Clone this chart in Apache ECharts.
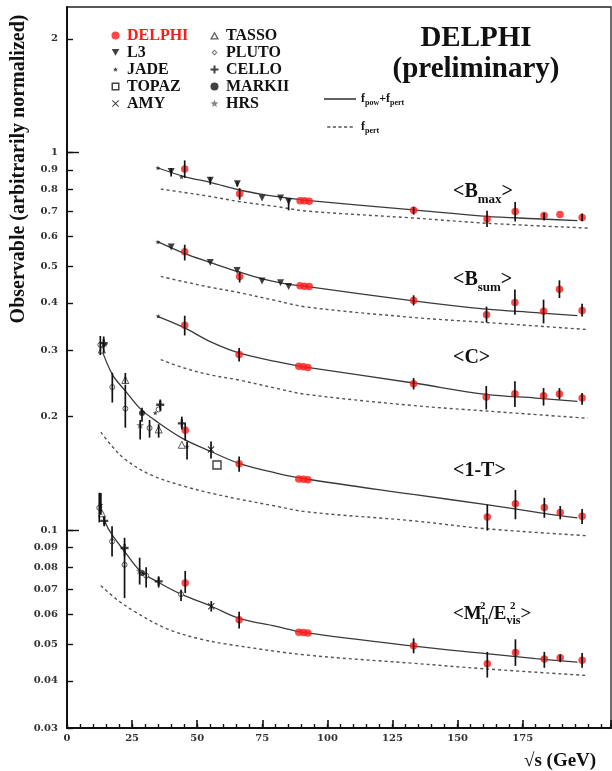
<!DOCTYPE html>
<html>
<head>
<meta charset="utf-8">
<script src="https://cdn.jsdelivr.net/npm/echarts@6/dist/echarts.min.js"></script>
<style>
html,body{margin:0;padding:0;background:#fff;}
#chart{width:612px;height:771px;}
</style>
</head>
<body>
<div id="chart"></div>
<script>
// ---------------- DATA ----------------
const xTicks = [0, 25, 50, 75, 100, 125, 150, 175, 200];
const yTickLabels = [0.03, 0.04, 0.05, 0.06, 0.07, 0.08, 0.09, 0.1, 0.2, 0.3, 0.4, 0.5, 0.6, 0.7, 0.8, 0.9, 1, 2];
const yMajorTicks = [0.1, 1];

// experiments: [sqrt(s), value]
const DELPHI = [
  // <Bmax>
  [45.2,0.904],[66.3,0.778],[89.5,0.745],[91.2,0.745],[93.0,0.743],[133.1,0.703],[161.3,0.667],[172.1,0.698],[183.2,0.681],[189.3,0.685],[197.8,0.673],
  // <Bsum>
  [45.2,0.546],[66.3,0.470],[89.5,0.444],[91.2,0.443],[93.0,0.442],[133.1,0.406],[161.1,0.372],[172.0,0.401],[183.0,0.380],[189.1,0.435],[197.8,0.382],
  // <C>
  [45.2,0.349],[66.1,0.292],[89.0,0.272],[90.8,0.271],[92.5,0.270],[133.1,0.2444],[161.0,0.2254],[172.0,0.230],[183.0,0.227],[189.1,0.2296],[197.8,0.224],
  // <1-T>
  [45.4,0.184],[66.1,0.150],[89.0,0.1368],[90.8,0.1366],[92.5,0.1362],[161.4,0.1085],[172.2,0.1177],[183.3,0.115],[189.4,0.1116],[197.8,0.109],
  // <Mh2/Evis2>
  [45.4,0.0726],[66.1,0.058],[89.0,0.0538],[90.8,0.0537],[92.5,0.0535],[133.1,0.0495],[161.4,0.0444],[172.2,0.0475],[183.3,0.0457],[189.4,0.046],[197.8,0.0453]
];
const L3 = [
  [40.0,0.891],[55.0,0.844],[65.4,0.827],[74.9,0.758],[82.0,0.758],[85.1,0.742],
  [40.0,0.562],[55.0,0.512],[65.3,0.487],[74.9,0.457],[82.0,0.452],[85.1,0.442]
];
const JADE = [[34.9,0.910],[44.0,0.862],[34.9,0.580],[35.0,0.369],[14.7,0.310],[33.9,0.2045],[46.1,0.1668],[13.0,0.117]];
const TOPAZ = [[57.6,0.149]];
const AMY = [[55.3,0.1636],[55.4,0.0630]];
const TASSO = [[13.4,0.301],[22.4,0.250],[35.2,0.185],[44.1,0.1685],[13.4,0.111]];
const PLUTO = [[12.8,0.310],[17.4,0.2395],[22.4,0.210],[31.7,0.1866],[35.2,0.209],[12.4,0.1147],[17.3,0.0935],[22.1,0.0811],[30.4,0.0759],[43.8,0.0678]];
const CELLO = [[14.1,0.313],[35.8,0.215],[44.1,0.192],[14.3,0.106],[22.1,0.0898],[35.2,0.0733]];
const MARKII = [[28.8,0.2045],[28.8,0.0772]];
const HRS = [[28.1,0.190],[27.9,0.0782]];

// error bars: [sqrt(s), low, high]
const errBars = [
  [45.2,0.856,0.953],[66.3,0.750,0.805],[133.1,0.685,0.718],[161.3,0.635,0.701],[172.1,0.657,0.740],[183.2,0.661,0.692],[197.8,0.658,0.690],
  [40.0,0.864,0.910],[55.0,0.822,0.861],[65.4,0.813,0.838],[85.1,0.703,0.753],
  [45.2,0.518,0.570],[66.3,0.453,0.484],[133.1,0.394,0.419],[161.1,0.355,0.391],[172.0,0.372,0.434],[183.0,0.353,0.408],[189.1,0.412,0.459],[197.8,0.368,0.398],
  [45.2,0.328,0.370],[66.1,0.280,0.304],[133.1,0.236,0.253],[161.0,0.209,0.241],[172.0,0.212,0.248],[183.0,0.214,0.238],[189.1,0.222,0.238],[197.8,0.215,0.231],
  [45.4,0.173,0.192],[66.1,0.143,0.157],[161.4,0.0999,0.117],[172.2,0.107,0.128],[183.3,0.108,0.122],[189.4,0.107,0.116],[197.8,0.104,0.114],
  [12.8,0.291,0.327],[14.1,0.295,0.326],[17.4,0.218,0.2615],[22.4,0.187,0.243],[22.4,0.245,0.261],[28.8,0.194,0.211],[28.1,0.174,0.196],[31.7,0.176,0.196],[35.2,0.176,0.191],[35.8,0.207,0.222],[44.1,0.185,0.200],[46.1,0.154,0.172],[55.3,0.155,0.172],
  [12.4,0.105,0.1258],[13.0,0.110,0.1256],[14.3,0.1025,0.1089],[17.3,0.0853,0.1025],[22.1,0.0853,0.0956],[22.1,0.0662,0.088],[27.9,0.0719,0.0847],[30.4,0.0706,0.0799],[35.2,0.0706,0.0756],[43.8,0.065,0.0697],[45.4,0.0683,0.0781],[55.4,0.0610,0.0650],[66.1,0.0550,0.0609],[133.1,0.0473,0.0518],[161.4,0.0408,0.0477],[172.2,0.0438,0.0515],[183.3,0.0433,0.0477],[189.4,0.0448,0.047],[197.8,0.0433,0.0474]
];

// fitted curves: f_pow + f_pert (solid) and f_pert (dashed)
const fitBmax = [[35,0.91],[45,0.864],[55,0.834],[66,0.797],[75,0.775],[85,0.757],[91,0.748],[133,0.705],[161,0.678],[180,0.668],[196,0.660]];
const pertBmax = [[36,0.80],[45,0.784],[55,0.765],[66,0.742],[80,0.720],[92,0.700],[133,0.671],[161,0.650],[200,0.631]];
const fitBsum = [[35,0.580],[45,0.541],[55,0.512],[66,0.483],[75,0.463],[85,0.448],[91,0.443],[133,0.405],[161,0.385],[180,0.377],[196,0.370]];
const pertBsum = [[36,0.47],[45,0.455],[55,0.440],[66,0.426],[80,0.406],[92,0.390],[133,0.366],[161,0.355],[200,0.340]];
const fitC = [[35,0.368],[45,0.344],[55,0.316],[66,0.295],[80,0.280],[91,0.271],[133,0.2455],[161,0.229],[180,0.224],[196,0.2195]];
const pertC = [[36,0.283],[45,0.269],[55,0.258],[66,0.250],[80,0.238],[92,0.229],[133,0.214],[161,0.207],[200,0.198]];
const fitT = [[13,0.305],[17.5,0.258],[22.4,0.234],[28.1,0.210],[35,0.193],[44.5,0.175],[55,0.162],[66,0.1505],[80,0.142],[91,0.137],[133,0.1245],[161,0.117],[183,0.111],[196,0.108]];
const pertT = [[13,0.182],[17.3,0.167],[22.4,0.154],[32,0.1404],[44.8,0.131],[55,0.1256],[66,0.121],[80,0.116],[92,0.112],[133,0.106],[161,0.101],[200,0.0968]];
const fitM = [[12.4,0.118],[14.7,0.105],[17.3,0.0974],[22.1,0.088],[28.1,0.0781],[35.2,0.0728],[43.8,0.0678],[55.4,0.0630],[66.1,0.0585],[80,0.0558],[91,0.0537],[133,0.0494],[161,0.0472],[180,0.0458],[196,0.0448]];
const pertM = [[13,0.0714],[19.2,0.0656],[25.6,0.0612],[38.4,0.0549],[51.2,0.0516],[64,0.0497],[92,0.0468],[133,0.0445],[161,0.0430],[200,0.0413]];

// ---------------- CHART ----------------
const SERIF = '"Liberation Serif","Times New Roman",serif';
const LBL = '"DejaVu Serif",serif';
const chart = echarts.init(document.getElementById('chart'), null, {renderer: 'canvas'});

const PLUS = 'path://M3.5,0H6.5V3.5H10V6.5H6.5V10H3.5V6.5H0V3.5H3.5Z';
const XCROSS = 'path://M1.2,0L5,3.8L8.8,0L10,1.2L6.2,5L10,8.8L8.8,10L5,6.2L1.2,10L0,8.8L3.8,5L0,1.2Z';
const STAR = 'path://M5,0L6.2,3.5L10,3.6L7,5.9L8.1,9.5L5,7.4L1.9,9.5L3,5.9L0,3.6L3.8,3.5Z';

// legend icons in a 13x8 box (tiny corner dots fix the box so shapes are not stretched)
const BOX = 'M0,0h0.01v0.01h-0.01Z M12.99,7.99h0.01v0.01h-0.01Z ';
const IC = {
  L3: 'path://' + BOX + 'M2.7,0.5H10.3L6.5,7.3Z',
  JADE: 'path://' + BOX + 'M6.5,1.5L7.1,3.25L9,3.3L7.5,4.45L8.05,6.25L6.5,5.2L4.95,6.25L5.5,4.45L4,3.3L5.9,3.25Z',
  TOPAZ: 'path://' + BOX + 'M2.5,0H10.5V8H2.5Z M4,1.5V6.5H9V1.5Z',
  AMY: 'path://' + BOX + 'M3.7,0.5L6.5,3.3L9.3,0.5L10,1.2L7.2,4L10,6.8L9.3,7.5L6.5,4.7L3.7,7.5L3,6.8L5.8,4L3,1.2Z',
  TASSO: 'path://' + BOX + 'M6.5,0L11,8H2Z M6.5,2.6L4.2,6.8H8.8Z',
  PLUTO: 'path://' + BOX + 'M6.5,1L9.5,4L6.5,7L3.5,4Z M6.5,2.5L5,4L6.5,5.5L8,4Z',
  CELLO: 'path://' + BOX + 'M5.5,0H7.5V3H10.5V5H7.5V8H5.5V5H2.5V3H5.5Z',
  HRS: 'path://' + BOX + 'M6.5,0L7.46,2.8L10.5,2.88L8.1,4.72L8.98,7.6L6.5,5.92L4.02,7.6L4.9,4.72L2.5,2.88L5.54,2.8Z',
  DASH: 'path://M0,0H4V2H0ZM7,0H11V2H7ZM14,0H18V2H14ZM21,0H25V2H21ZM28,0H32V2H28Z'
};
const dark = {color: '#111', borderWidth: 0};

function sc(name, data, symbol, size, style, extra) {
  return Object.assign({
    name, type: 'scatter', data, symbol, symbolSize: size, symbolKeepAspect: true,
    itemStyle: style, z: 4, silent: true
  }, extra || {});
}
const curveSolid = (d) => ({name: 'fpow+fpert', type: 'line', data: d, smooth: 0.35, symbol: 'none', silent: true, z: 2,
  lineStyle: {color: '#3a3a3a', width: 1.3}, itemStyle: {color: '#3a3a3a'}});
const curveDash = (d) => ({name: 'fpert', type: 'line', data: d, smooth: 0.35, symbol: 'none', silent: true, z: 2,
  lineStyle: {color: '#555', width: 1.4, type: [3, 3]}, itemStyle: {color: '#555'}});

const legTxt = {fontFamily: SERIF, fontWeight: 'bold', fontSize: 16, lineHeight: 17, color: '#111'};

const option = {
  animation: false,
  backgroundColor: '#fff',
  title: {
    text: 'DELPHI\n(preliminary)', left: 471, top: 18, textAlign: 'center',
    textStyle: {fontFamily: SERIF, fontWeight: 'bold', fontSize: 29, lineHeight: 31, color: '#111'}
  },
  grid: {left: 67, top: 7, width: 544, height: 721, show: true, borderColor: '#222', borderWidth: 1.3, backgroundColor: 'transparent'},
  legend: [
    {orient: 'vertical', left: 109, top: 27, padding: 0, itemGap: 0, itemWidth: 13, itemHeight: 8, selectedMode: false,
     textStyle: legTxt,
     data: [{name: 'DELPHI', textStyle: {color: '#ff1a1a'}},
            {name: 'L3', icon: IC.L3, itemStyle: dark},
            {name: 'JADE', icon: IC.JADE, itemStyle: dark},
            {name: 'TOPAZ', icon: IC.TOPAZ, itemStyle: dark},
            {name: 'AMY', icon: IC.AMY, itemStyle: dark}]},
    {orient: 'vertical', left: 208, top: 27, padding: 0, itemGap: 0, itemWidth: 13, itemHeight: 8, selectedMode: false,
     textStyle: legTxt,
     data: [{name: 'TASSO', icon: IC.TASSO, itemStyle: {color: '#333', borderWidth: 0}},
            {name: 'PLUTO', icon: IC.PLUTO, itemStyle: {color: '#555', borderWidth: 0}},
            {name: 'CELLO', icon: IC.CELLO, itemStyle: dark},
            'MARKII',
            {name: 'HRS', icon: IC.HRS, itemStyle: {color: '#666', borderWidth: 0}}]},
    {orient: 'vertical', left: 324, top: 93, padding: 0, itemGap: 14, itemWidth: 32, itemHeight: 1.6, selectedMode: false,
     data: [{name: 'fpow+fpert', icon: 'rect'}, {name: 'fpert', icon: IC.DASH}],
     formatter: (n) => n === 'fpow+fpert' ? '{b|f}{s|pow}{b|+f}{s|pert}' : '{b|f}{s|pert}',
     textStyle: {color: '#111', rich: {
       b: {fontFamily: SERIF, fontWeight: 'bold', fontSize: 12, lineHeight: 16, color: '#111'},
       s: {fontFamily: SERIF, fontWeight: 'bold', fontSize: 8, lineHeight: 8, verticalAlign: 'bottom', color: '#111'}
     }}}
  ],
  xAxis: [
    {type: 'value', min: 0, max: 208.9, interval: 25,
     axisLine: {lineStyle: {color: '#111', width: 2}},
     axisTick: {inside: true, length: 8, lineStyle: {color: '#111', width: 1.6}},
     axisLabel: {margin: 5, fontFamily: LBL, fontWeight: 'bold', fontSize: 10, color: '#333', showMaxLabel: false,
       customValues: xTicks},
     splitLine: {show: false}},
    {type: 'value', min: 0, max: 208.9, interval: 5, position: 'bottom',
     axisLine: {show: false},
     axisTick: {inside: true, length: 4, lineStyle: {color: '#111', width: 1.4}},
     axisLabel: {show: false}, splitLine: {show: false}}
  ],
  yAxis: [
    {type: 'log', logBase: 10, min: 0.03, max: 2.427, position: 'left',
     axisLine: {show: true, lineStyle: {color: '#111', width: 2}},
     axisTick: {show: true, inside: true, length: 6, customValues: yTickLabels, lineStyle: {color: '#111', width: 1.4}},
     axisLabel: {margin: 9, fontFamily: LBL, fontWeight: 'bold', fontSize: 10, color: '#333', customValues: yTickLabels,
       formatter: (v) => String(+v.toPrecision(2))},
     splitLine: {show: false}, minorTick: {show: false}},
    {type: 'log', logBase: 10, min: 0.03, max: 2.427, position: 'left',
     axisLine: {show: false},
     axisTick: {show: true, inside: true, length: 12, customValues: yMajorTicks, lineStyle: {color: '#111', width: 1.4}},
     axisLabel: {show: false}, splitLine: {show: false}}
  ],
  series: [
    curveSolid(fitBmax), curveSolid(fitBsum), curveSolid(fitC), curveSolid(fitT), curveSolid(fitM),
    curveDash(pertBmax), curveDash(pertBsum), curveDash(pertC), curveDash(pertT), curveDash(pertM),
    sc('DELPHI', DELPHI, 'circle', 7.5, {color: '#ff1a1a'}),
    sc('L3', L3, 'triangle', 7, {color: '#111'}, {symbolRotate: 180}),
    sc('JADE', JADE, STAR, 5, {color: '#111'}),
    sc('TOPAZ', TOPAZ, 'rect', 8, {color: '#fff', borderColor: '#111', borderWidth: 1.4}),
    sc('AMY', AMY, XCROSS, 7, {color: '#111'}),
    sc('TASSO', TASSO, 'triangle', 7, {color: '#fff', borderColor: '#333', borderWidth: 1}),
    sc('PLUTO', PLUTO, 'circle', 5, {color: '#fff', borderColor: '#333', borderWidth: 1}),
    sc('CELLO', CELLO, PLUS, 8, {color: '#111'}),
    sc('MARKII', MARKII, 'circle', 6, {color: '#111'}),
    sc('HRS', HRS, STAR, 8, {color: '#666'}),
    {name: 'errors', type: 'custom', data: errBars, z: 5, silent: true,
     encode: {x: 0, y: [1, 2]},
     renderItem: (params, api) => {
       const a = api.coord([api.value(0), api.value(1)]);
       const b = api.coord([api.value(0), api.value(2)]);
       return {type: 'line', shape: {x1: a[0], y1: a[1], x2: b[0], y2: b[1]}, style: {stroke: '#111', lineWidth: 1.7}};
     }}
  ],
  graphic: [
    {type: 'text', x: 19, y: 169, rotation: Math.PI / 2,
     style: {text: 'Observable (arbitrarily normalized)', font: 'bold 20px ' + SERIF, fill: '#111',
       align: 'center', verticalAlign: 'middle', textAlign: 'center', textVerticalAlign: 'middle'}},
    {type: 'text', x: 524, y: 761,
     style: {text: '\u221As (GeV)', font: 'bold 19px ' + SERIF, fill: '#111',
       align: 'left', verticalAlign: 'middle', textAlign: 'left', textVerticalAlign: 'middle'}},
    {type: 'text', x: 453, y: 192,
     style: {text: '{m|<B}{s|max}{m|>}', verticalAlign: 'middle', textVerticalAlign: 'middle',
       rich: {m: {font: 'bold 20px ' + SERIF, fill: '#111', lineHeight: 28},
              s: {font: 'bold 13px ' + SERIF, fill: '#111', lineHeight: 13, verticalAlign: 'bottom'}}}},
    {type: 'text', x: 453, y: 280,
     style: {text: '{m|<B}{s|sum}{m|>}', verticalAlign: 'middle', textVerticalAlign: 'middle',
       rich: {m: {font: 'bold 20px ' + SERIF, fill: '#111', lineHeight: 28},
              s: {font: 'bold 13px ' + SERIF, fill: '#111', lineHeight: 13, verticalAlign: 'bottom'}}}},
    {type: 'text', x: 453, y: 358,
     style: {text: '<C>', font: 'bold 20px ' + SERIF, fill: '#111', verticalAlign: 'middle', textVerticalAlign: 'middle'}},
    {type: 'text', x: 453, y: 471,
     style: {text: '<1-T>', font: 'bold 20px ' + SERIF, fill: '#111', verticalAlign: 'middle', textVerticalAlign: 'middle'}},
    {type: 'text', x: 453, y: 614,
     style: {text: '{m|<M}{s|h}{m|/E}{s|vis}{m|>}', verticalAlign: 'middle', textVerticalAlign: 'middle',
       rich: {m: {font: 'bold 19px ' + SERIF, fill: '#111', lineHeight: 26},
              s: {font: 'bold 12px ' + SERIF, fill: '#111', lineHeight: 12, verticalAlign: 'bottom'}}}},
    {type: 'text', x: 480, y: 606,
     style: {text: '2', font: 'bold 11px ' + SERIF, fill: '#111', verticalAlign: 'middle', textVerticalAlign: 'middle'}},
    {type: 'text', x: 510, y: 606,
     style: {text: '2', font: 'bold 11px ' + SERIF, fill: '#111', verticalAlign: 'middle', textVerticalAlign: 'middle'}}
  ]
};
chart.setOption(option);
</script>
</body>
</html>
